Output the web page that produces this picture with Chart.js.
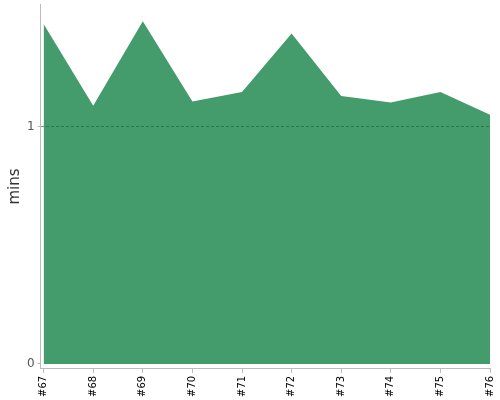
<!DOCTYPE html>
<html>
<head>
<meta charset="utf-8">
<script src="https://cdn.jsdelivr.net/npm/chart.js@4/dist/chart.umd.min.js"></script>
<style>
    body { margin: 0; background: #fff; }
</style>
</head>
<body>
<canvas id="buildChart" width="500" height="400"></canvas>
<script>
const buildLabels = ['#67', '#68', '#69', '#70', '#71', '#72', '#73', '#74', '#75', '#76'];
const durationMins = [1.435, 1.09, 1.446, 1.107, 1.148, 1.395, 1.131, 1.103, 1.148, 1.052];
const yTicks = [0, 1];

document.addEventListener("DOMContentLoaded", function () {
    const ctx = document.getElementById('buildChart').getContext('2d');
    const points = durationMins.map((v, i) => ({x: i, y: v}));

    new Chart(ctx, {
        type: 'line',
        data: {
            datasets: [{
                label: 'Duration',
                data: points,
                backgroundColor: 'rgb(68, 156, 108)',
                borderWidth: 0,
                pointRadius: 0,
                fill: 'origin',
                tension: 0
            }]
        },
        options: {
            responsive: false,
            animation: false,
            layout: {padding: {top: 4, right: 10, left: 6, bottom: 0}},
            plugins: {legend: {display: false}, tooltip: {enabled: false}},
            scales: {
                x: {
                    type: 'linear',
                    min: -0.06,
                    max: 9,
                    afterBuildTicks: scale => {
                        scale.ticks = buildLabels.map((l, i) => ({value: i}));
                    },
                    afterFit: scale => {
                        scale.paddingLeft = 0;
                        scale.paddingRight = 0;
                    },
                    ticks: {
                        callback: value => buildLabels[value],
                        minRotation: 90,
                        maxRotation: 90,
                        color: '#000',
                        padding: 3,
                        font: {family: 'DejaVu Sans', size: 10}
                    },
                    grid: {drawOnChartArea: false, color: '#bbb', tickLength: 4},
                    border: {color: '#bbb'}
                },
                y: {
                    min: -0.021,
                    max: 1.519,
                    afterBuildTicks: scale => {
                        scale.ticks = yTicks.map(v => ({value: v}));
                    },
                    afterFit: scale => {
                        scale.paddingTop = 0;
                        scale.paddingBottom = 0;
                    },
                    ticks: {
                        color: '#555',
                        padding: 3,
                        font: {family: 'DejaVu Sans', size: 12}
                    },
                    grid: {
                        z: 1,
                        color: ctx => ctx.tick && ctx.tick.value === 1 ? 'rgba(25, 100, 60, 0.6)' : 'rgba(0,0,0,0)',
                        tickColor: '#bbb',
                        tickLength: 3
                    },
                    // border drawn on the same layer as the grid so its position is known
                    border: {color: '#bbb', dash: [3, 2], z: 1},
                    title: {
                        display: true,
                        text: 'mins',
                        color: '#333',
                        padding: {top: 0, bottom: 0},
                        font: {family: 'DejaVu Sans', size: 15}
                    }
                }
            }
        }
    });
});
</script>
</body>
</html>
